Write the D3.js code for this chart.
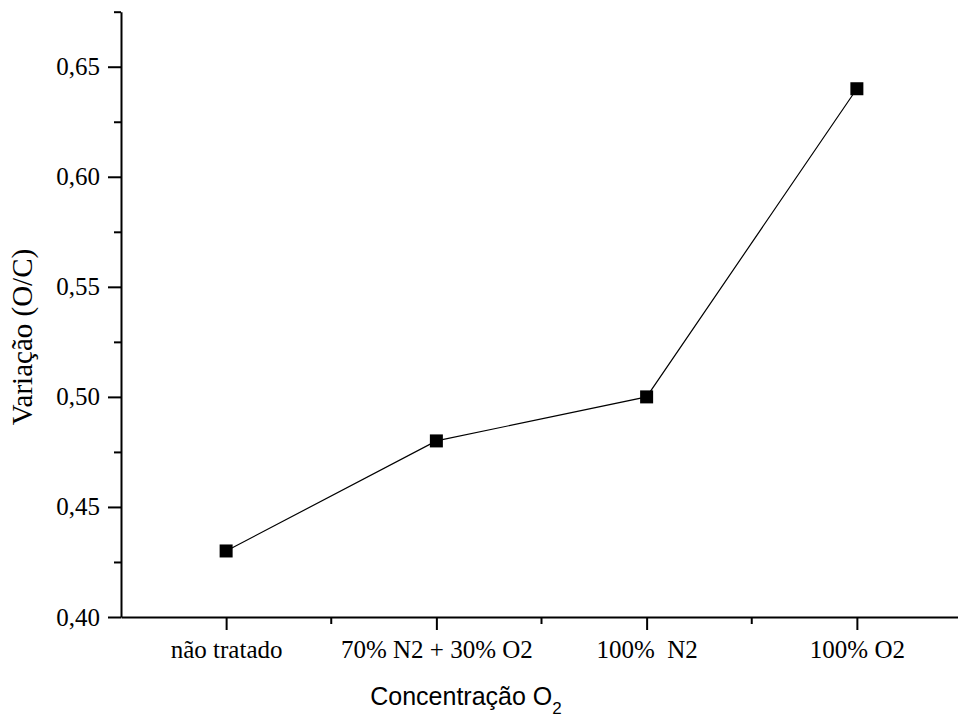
<!DOCTYPE html>
<html>
<head>
<meta charset="utf-8">
<script src="https://cdn.jsdelivr.net/npm/d3@7"></script>
<style>
  html, body { margin: 0; padding: 0; background: #fff; }
  svg { display: block; }
  text { white-space: pre; }
</style>
</head>
<body>
<svg id="chart" width="958" height="722"></svg>
<script>
// Treatment conditions and measured O/C ratio
const categories = ["não tratado", "70% N2 + 30% O2", "100%  N2", "100% O2"];
const ocValues = [0.43, 0.48, 0.50, 0.64];
const yMajorTicks = [0.40, 0.45, 0.50, 0.55, 0.60, 0.65];
const yMinorTicks = [0.425, 0.475, 0.525, 0.575, 0.625, 0.675];

const svg = d3.select("#chart");
const plotLeft = 121, plotRight = 962, plotTop = 11.7, plotBottom = 617;

const x = d3.scalePoint().domain(categories).range([plotLeft, plotRight]).padding(0.5);
const y = d3.scaleLinear().domain([0.40, 0.675]).range([plotBottom, plotTop]);

const comma = d3.formatLocale({ decimal: ",", thousands: ".", grouping: [3], currency: ["", ""] }).format(".2f");

const serif = "'Liberation Serif', 'Times New Roman', serif";
const sans = "'Liberation Sans', Arial, sans-serif";

// Y axis: major and minor ticks
const yAxis = svg.append("g").attr("transform", `translate(${plotLeft},0)`)
  .call(d3.axisLeft(y).tickValues(yMajorTicks).tickFormat(comma).tickSize(13).tickSizeOuter(0).tickPadding(8));
const yMinorG = svg.append("g").attr("transform", `translate(${plotLeft},0)`)
  .call(d3.axisLeft(y).tickValues(yMinorTicks).tickFormat("").tickSize(7).tickSizeOuter(0));
yMinorG.select(".domain").remove();

// X axis: major ticks at categories, minor ticks between them
const step = x.step();
const xMinor = categories.slice(0, -1).map(c => x(c) + step / 2);
const xAxis = svg.append("g").attr("transform", `translate(0,${plotBottom})`)
  .call(d3.axisBottom(x).tickSize(13).tickSizeOuter(0).tickPadding(10));
const xMinorG = svg.append("g").attr("transform", `translate(0,${plotBottom})`);
xMinorG.selectAll("line").data(xMinor).join("line")
  .attr("x1", d => d).attr("x2", d => d).attr("y1", 0).attr("y2", 7)
  .attr("stroke", "#000").attr("stroke-width", 2);

[yAxis, xAxis, yMinorG].forEach(g => {
  g.select(".domain").attr("stroke", "#000").attr("stroke-width", 2);
  g.selectAll(".tick line").attr("stroke", "#000").attr("stroke-width", 2);
  g.selectAll(".tick text").attr("fill", "#000")
    .style("font-family", serif).style("font-size", "25px");
});

// Connecting line and square markers
const pts = categories.map((c, i) => [x(c), y(ocValues[i])]);
svg.append("path")
  .attr("d", d3.line()(pts))
  .attr("fill", "none").attr("stroke", "#000").attr("stroke-width", 1.2);

const ms = 13;
svg.selectAll("rect.marker").data(pts).join("rect")
  .attr("class", "marker")
  .attr("x", d => d[0] - ms / 2).attr("y", d => d[1] - ms / 2)
  .attr("width", ms).attr("height", ms)
  .attr("fill", "#000");

// Axis titles
const xt = svg.append("text")
  .attr("x", 466).attr("y", 705)
  .attr("text-anchor", "middle")
  .style("font-family", sans).style("font-size", "25px").attr("fill", "#000");
xt.append("tspan").text("Concentração O");
xt.append("tspan").attr("dy", 9).style("font-size", "17px").text("2");

svg.append("text")
  .attr("transform", "translate(32,337) rotate(-90)")
  .attr("text-anchor", "middle")
  .style("font-family", serif).style("font-size", "29px").attr("fill", "#000")
  .text("Variação (O/C)");
</script>
</body>
</html>
